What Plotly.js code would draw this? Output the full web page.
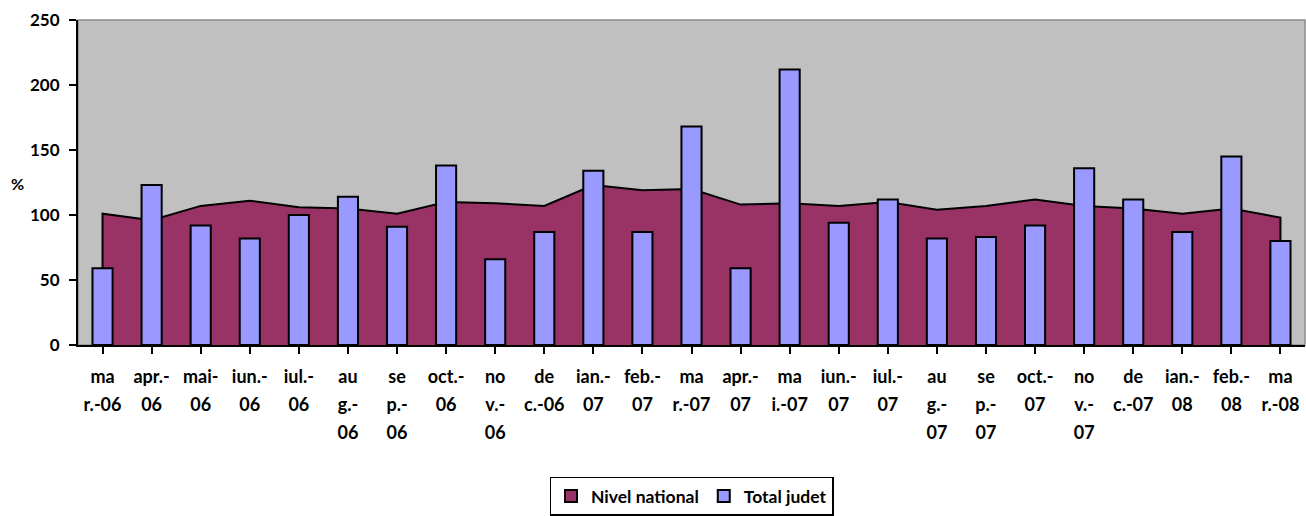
<!DOCTYPE html>
<html>
<head>
<meta charset="utf-8">
<script src="https://cdn.plot.ly/plotly-3.0.1.min.js"></script>
<style>html,body{margin:0;padding:0;background:#fff;}#chart{width:1306px;height:516px;}</style>
</head>
<body>
<div id="chart"></div>
<script>
// Category labels (as wrapped in the original chart)
const labelLines = [
  ["ma","r.-06"],["apr.-","06"],["mai-","06"],["iun.-","06"],["iul.-","06"],
  ["au","g.-","06"],["se","p.-","06"],["oct.-","06"],["no","v.-","06"],["de","c.-06"],
  ["ian.-","07"],["feb.-","07"],["ma","r.-07"],["apr.-","07"],["ma","i.-07"],
  ["iun.-","07"],["iul.-","07"],["au","g.-","07"],["se","p.-","07"],["oct.-","07"],
  ["no","v.-","07"],["de","c.-07"],["ian.-","08"],["feb.-","08"],["ma","r.-08"]
];
// Series values (%)
const nivelNational = [101, 96, 107, 111, 106, 105, 101, 110, 109, 107,
                       123, 119, 120, 108, 109, 107, 110, 104, 107, 112,
                       107, 105, 101, 105, 98];
const totalJudet = [59, 123, 92, 82, 100, 114, 91, 138, 66, 87,
                    134, 87, 168, 59, 212, 94, 112, 82, 83, 92,
                    136, 112, 87, 145, 80];

const idx = labelLines.map((_, i) => i);
const tickText = labelLines.map(l => l.map(s => '<span style="font-size:18px">' + s + '</span>').join('<br>'));

// closed polygon for the area so its outline includes the vertical edges
const areaX = [0].concat(idx, [idx.length - 1]);
const areaY = [0].concat(nivelNational, [0]);

const FONT = 'Lato, "Liberation Sans", sans-serif';

const traces = [
  {
    type: 'scatter', mode: 'lines', x: areaX, y: areaY,
    fill: 'toself', fillcolor: '#993366',
    line: {color: '#000', width: 2}, showlegend: false, hoverinfo: 'skip'
  },
  {
    type: 'bar', name: 'Nivel national', x: [null], y: [null], yaxis: 'y2',
    marker: {color: '#993366', line: {color: '#000', width: 2}}
  },
  {
    type: 'bar', name: 'Total judet', x: idx, y: totalJudet, width: 0.41, yaxis: 'y2',
    marker: {color: '#9999FF', line: {color: '#000', width: 2}}
  }
];

const layout = {
  width: 1306, height: 516,
  margin: {l: 78, r: 1, t: 20, b: 168},
  paper_bgcolor: '#fff', plot_bgcolor: '#C0C0C0',
  barmode: 'overlay',
  font: {family: FONT, color: '#000', size: 15, weight: 'bold'},
  xaxis: {
    range: [-0.5, 24.5], tickvals: idx, ticktext: tickText,
    tickmode: 'array', tickson: 'boundaries',
    ticks: 'outside', ticklen: 7, tickwidth: 2, tickcolor: '#000',
    showline: true, linecolor: '#000', linewidth: 2,
    showgrid: false, zeroline: false, tickangle: 0, ticklabelstandoff: 3,
    tickfont: {family: FONT, size: 21.5, color: '#000', weight: 'bold'}
  },
  yaxis: {
    range: [0, 250], dtick: 50, tick0: 0,
    ticks: 'outside', ticklen: 7, tickwidth: 2, tickcolor: '#000',
    showline: true, linecolor: '#000', linewidth: 2,
    showgrid: false, zeroline: false, ticklabelstandoff: 6,
    tickfont: {family: FONT, size: 17, color: '#000', weight: 'bold'}
  },
  yaxis2: {
    range: [0, 250], overlaying: 'y', visible: false, showgrid: false, zeroline: false
  },
  shapes: [{
    type: 'rect', xref: 'paper', yref: 'paper', x0: 0, x1: 1, y0: 0, y1: 1,
    line: {color: '#8c8c8c', width: 1.5}, layer: 'below'
  }],
  annotations: [{
    text: '%', xref: 'paper', yref: 'paper', x: -0.0497, y: 0.497,
    showarrow: false, xanchor: 'center', yanchor: 'middle',
    font: {family: FONT, size: 16, color: '#000', weight: 'bold'}
  }],
  legend: {
    orientation: 'h', x: 0.5, xanchor: 'center', y: -0.405, yanchor: 'top',
    bordercolor: '#000', borderwidth: 1.5, bgcolor: '#fff',
    font: {family: FONT, size: 17.5, color: '#000', weight: 'bold'},
    traceorder: 'normal', itemwidth: 30
  },
  showlegend: true
};

Plotly.newPlot('chart', traces, layout, {displayModeBar: false, staticPlot: true});
</script>
</body>
</html>
